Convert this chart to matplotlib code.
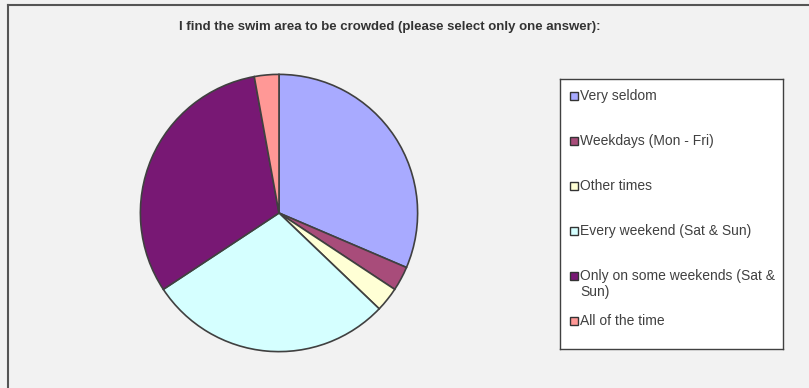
import matplotlib.pyplot as plt
from matplotlib.patches import Rectangle
from matplotlib.lines import Line2D

plt.rcParams['font.family'] = ['Liberation Sans', 'DejaVu Sans']

labels = ['Very seldom', 'Weekdays (Mon - Fri)', 'Other times',
          'Every weekend (Sat & Sun)', 'Only on some weekends (Sat &\nSun)',
          'All of the time']
counts = [11, 1, 1, 10, 11, 1]
colors = ['#a8aaff', '#a84c7a', '#ffffd5', '#d5ffff', '#781874', '#ff9896']

W, H = 809, 388
fig = plt.figure(figsize=(W / 100, H / 100), dpi=100)
fig.patch.set_facecolor('#f2f2f2')

# frame only on top and left
fig.add_artist(Line2D([8 / W, 1], [1 - 5 / H, 1 - 5 / H], color='#555555', lw=1.5))
fig.add_artist(Line2D([8 / W, 8 / W], [0, 1 - 5 / H], color='#555555', lw=1.5))

# pie axes: centre (279, 213), radius 140 px
ax = fig.add_axes([139 / W, (H - 353) / H, 280 / W, 280 / H])
ax.pie(counts, colors=colors, startangle=90, counterclock=False,
       wedgeprops=dict(edgecolor='#404040', linewidth=1.2))
ax.set_xlim(-1.01, 1.01)
ax.set_ylim(-1.01, 1.01)
ax.set_aspect('equal')

fig.text(390 / W, 1 - 27 / H,
         'I find the swim area to be crowded (please select only one answer):',
         ha='center', va='center', fontsize=9.5, color='#333333',
         fontweight='bold')

# legend box
lx0, lx1, ly0, ly1 = 560, 783, 79, 349
lax = fig.add_axes([lx0 / W, (H - ly1) / H, (lx1 - lx0) / W, (ly1 - ly0) / H])
lax.set_xlim(lx0, lx1)
lax.set_ylim(ly1, ly0)
lax.set_xticks([])
lax.set_yticks([])
lax.set_facecolor('white')
for s in lax.spines.values():
    s.set_color('#404040')
    s.set_linewidth(1)

ys = [96.5, 141.5, 186.5, 231.5, 276.5, 321.5]
for lab, c, y in zip(labels, colors, ys):
    lax.add_patch(Rectangle((570, y - 4), 8, 8, facecolor=c,
                            edgecolor='#333333', linewidth=1))
    lax.text(580.5, y - 7, lab, ha='left', va='top', fontsize=10,
             color='#404040', linespacing=1.1)

fig.savefig('out.png', dpi=100, facecolor=fig.get_facecolor())
